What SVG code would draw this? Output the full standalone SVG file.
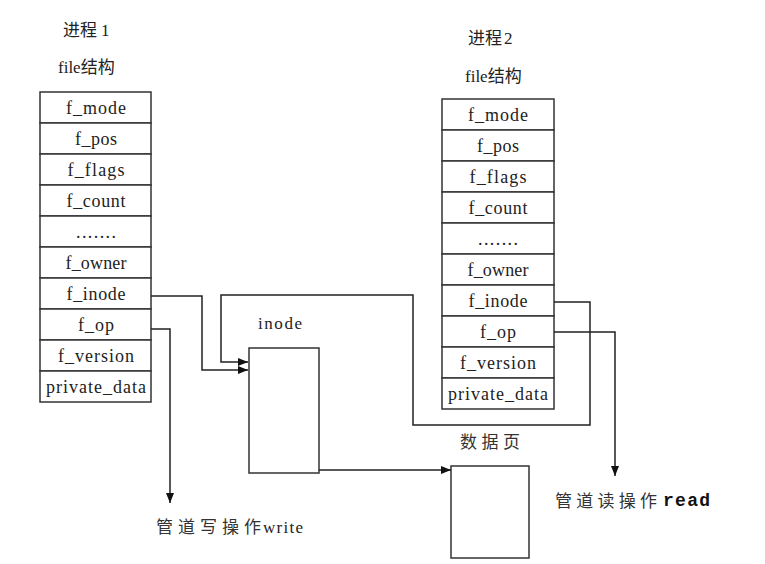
<svg xmlns="http://www.w3.org/2000/svg" width="765" height="564" viewBox="0 0 765 564">
<defs>
<marker id="arr" markerUnits="userSpaceOnUse" markerWidth="10" markerHeight="8" refX="10" refY="4" orient="auto">
<path d="M0,0 L10,4 L0,8 z" fill="#111"/>
</marker>
<style>
.cell{fill:#fff;stroke:#333;stroke-width:1.5}
.ct{font-family:"Liberation Serif","Noto Sans CJK SC",serif;font-size:18px;fill:#222;text-anchor:middle}
.lb{font-family:"Liberation Serif","Noto Sans CJK SC",serif;font-size:17px;fill:#222}
.cj{font-family:"Noto Sans CJK SC",sans-serif;font-size:17px;fill:#333}
.con{fill:none;stroke:#222;stroke-width:1.5}
.box{fill:#fff;stroke:#333;stroke-width:1.5}
</style>
</defs>
<rect width="765" height="564" fill="#fff"/>

<g id="labels">
<text class="lb" x="63" y="36">进程<tspan dx="4">1</tspan></text>
<text class="lb" x="58" y="73">file结构</text>
<text class="lb" x="468" y="44">进程<tspan dx="2">2</tspan></text>
<text class="lb" x="465" y="82">file结构</text>
</g>

<g id="file1">
<rect class="cell" x="40" y="92" width="111" height="31"/>
<rect class="cell" x="40" y="123" width="111" height="31"/>
<rect class="cell" x="40" y="154" width="111" height="31"/>
<rect class="cell" x="40" y="185" width="111" height="31"/>
<rect class="cell" x="40" y="216" width="111" height="31"/>
<rect class="cell" x="40" y="247" width="111" height="31"/>
<rect class="cell" x="40" y="278" width="111" height="31"/>
<rect class="cell" x="40" y="309" width="111" height="31"/>
<rect class="cell" x="40" y="340" width="111" height="31"/>
<rect class="cell" x="40" y="371" width="111" height="31"/>
<text class="ct" x="96" y="114" textLength="60" lengthAdjust="spacing">f_mode</text>
<text class="ct" x="96" y="145" textLength="42" lengthAdjust="spacing">f_pos</text>
<text class="ct" x="96" y="176" textLength="57" lengthAdjust="spacing">f_flags</text>
<text class="ct" x="96" y="207" textLength="59" lengthAdjust="spacing">f_count</text>
<text class="ct" x="96" y="238" textLength="40" lengthAdjust="spacing">.......</text>
<text class="ct" x="96" y="269" textLength="61" lengthAdjust="spacing">f_owner</text>
<text class="ct" x="96" y="300" textLength="59" lengthAdjust="spacing">f_inode</text>
<text class="ct" x="96" y="331" textLength="36" lengthAdjust="spacing">f_op</text>
<text class="ct" x="96" y="362" textLength="76" lengthAdjust="spacing">f_version</text>
<text class="ct" x="96" y="393" textLength="100" lengthAdjust="spacing">private_data</text>
</g>

<g id="file2">
<rect class="cell" x="442" y="99" width="112" height="31"/>
<rect class="cell" x="442" y="130" width="112" height="31"/>
<rect class="cell" x="442" y="161" width="112" height="31"/>
<rect class="cell" x="442" y="192" width="112" height="31"/>
<rect class="cell" x="442" y="223" width="112" height="31"/>
<rect class="cell" x="442" y="254" width="112" height="31"/>
<rect class="cell" x="442" y="285" width="112" height="31"/>
<rect class="cell" x="442" y="316" width="112" height="31"/>
<rect class="cell" x="442" y="347" width="112" height="31"/>
<rect class="cell" x="442" y="378" width="112" height="31"/>
<text class="ct" x="498" y="121" textLength="60" lengthAdjust="spacing">f_mode</text>
<text class="ct" x="498" y="152" textLength="42" lengthAdjust="spacing">f_pos</text>
<text class="ct" x="498" y="183" textLength="57" lengthAdjust="spacing">f_flags</text>
<text class="ct" x="498" y="214" textLength="59" lengthAdjust="spacing">f_count</text>
<text class="ct" x="498" y="245" textLength="40" lengthAdjust="spacing">.......</text>
<text class="ct" x="498" y="276" textLength="61" lengthAdjust="spacing">f_owner</text>
<text class="ct" x="498" y="307" textLength="59" lengthAdjust="spacing">f_inode</text>
<text class="ct" x="498" y="338" textLength="36" lengthAdjust="spacing">f_op</text>
<text class="ct" x="498" y="369" textLength="76" lengthAdjust="spacing">f_version</text>
<text class="ct" x="498" y="400" textLength="100" lengthAdjust="spacing">private_data</text>
</g>

<g id="inode">
<rect class="box" x="249" y="348" width="70" height="125"/>
<text class="lb" x="258" y="329" font-size="18" textLength="44" lengthAdjust="spacing">inode</text>
</g>

<g id="datapage">
<rect class="box" x="451" y="466" width="78" height="92"/>
<text class="cj" x="460" y="448" font-size="18" textLength="60" lengthAdjust="spacing">数据页</text>
</g>

<g id="write">
<text class="cj" x="156" y="533" textLength="105" lengthAdjust="spacing">管道写操作</text>
<text class="lb" x="263" y="533" textLength="40" lengthAdjust="spacing">write</text>
</g>

<g id="read">
<text class="cj" x="555" y="507" font-size="18" textLength="102" lengthAdjust="spacing">管道读操作</text>
<text x="663" y="506" font-family="Liberation Mono,monospace" font-weight="bold" font-size="18" fill="#111" textLength="47" lengthAdjust="spacing">read</text>
</g>

<g id="connectors">
<path class="con" d="M151,296 H202 V370 H248" marker-end="url(#arr)"/>
<path class="con" d="M554,302 H590 V425 H413 V295 H221 V362 H248" marker-end="url(#arr)"/>
<path class="con" d="M151,329 H170 V503" marker-end="url(#arr)"/>
<path class="con" d="M554,332 H615 V476" marker-end="url(#arr)" stroke="#445"/>
<path class="con" d="M319,470 H451" marker-end="url(#arr)"/>
</g>
</svg>
